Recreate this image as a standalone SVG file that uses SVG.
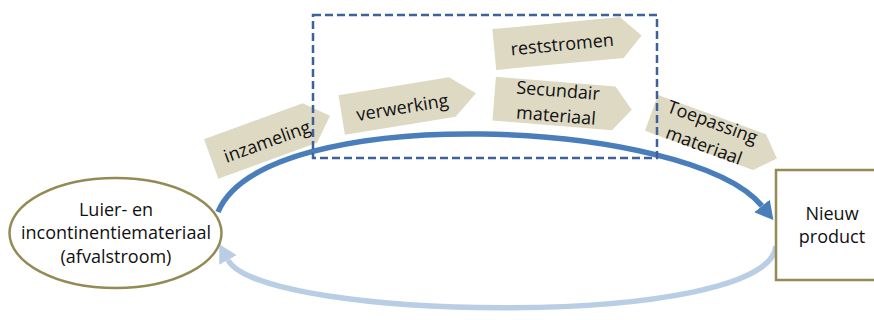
<svg xmlns="http://www.w3.org/2000/svg" width="874" height="320" viewBox="0 0 874 320">
<style>
  .lbl { font-family: "Open Sans", "Liberation Sans", sans-serif; font-size: 18px; fill: #111111; text-anchor: middle; }
  .tag { fill: #ddd9c3; stroke: none; }
  .node { fill: #ffffff; stroke: #948a54; stroke-width: 2.5; }
  .flow { fill: none; stroke: #4a7ebb; stroke-width: 5.5; }
  .back { fill: none; stroke: #b9cde5; stroke-width: 5.5; }
  .scope { fill: none; stroke: #3d6299; stroke-width: 2.5; stroke-dasharray: 8 4; }
</style>
<defs>
  <marker id="arrDark" markerUnits="userSpaceOnUse" viewBox="0 -10 18 20" markerWidth="18" markerHeight="20" refX="0" refY="0" orient="auto">
    <path d="M0,-10 L18,0 L0,10 Z" fill="#4a7ebb"/>
  </marker>
  <marker id="arrLight" markerUnits="userSpaceOnUse" viewBox="0 -10 18 20" markerWidth="18" markerHeight="20" refX="0" refY="0" orient="auto">
    <path d="M0,-10 L18,0 L0,10 Z" fill="#b9cde5"/>
  </marker>
</defs>

<g id="connectors">
  <path class="flow" d="M 218,212 C 265,100 690,118 762,206" marker-end="url(#arrDark)"/>
  <path class="back" d="M 776,246 C 768,330 262,322 228,260" marker-end="url(#arrLight)"/>
</g>

<g id="node-afval">
  <ellipse class="node" cx="115.5" cy="233" rx="106" ry="55"/>
  <text class="lbl" x="116" y="215.5">Luier- en</text>
  <text class="lbl" x="116" y="239">incontinentiemateriaal</text>
  <text class="lbl" x="116" y="262.5">(afvalstroom)</text>
</g>

<g id="node-product">
  <rect class="node" x="776" y="170" width="102" height="110"/>
  <text class="lbl" x="832" y="220">Nieuw</text>
  <text class="lbl" x="832" y="243">product</text>
</g>

<g id="tag-inzameling" transform="translate(260.5,141) rotate(-20)">
  <polygon class="tag" points="-52.5,-21 52.5,-21 74,0 52.5,21 -52.5,21"/>
  <text class="lbl" x="6" y="9">inzameling</text>
</g>

<g id="tag-verwerking" transform="translate(397,106) rotate(-9.2)">
  <polygon class="tag" points="-56,-20 56,-20 80,0 56,20 -56,20"/>
  <text class="lbl" x="5" y="8.5">verwerking</text>
</g>

<g id="tag-reststromen" transform="translate(558,43.5) rotate(-5.4)">
  <polygon class="tag" points="-64,-20.5 64,-20.5 84,0 64,20.5 -64,20.5"/>
  <text class="lbl" x="4" y="7.5">reststromen</text>
</g>

<g id="tag-secundair" transform="translate(554,103.5) rotate(4.6)">
  <polygon class="tag" points="-60,-22 60,-22 78,0 60,22 -60,22"/>
  <text class="lbl" x="3" y="-7">Secundair</text>
  <text class="lbl" x="3" y="18">materiaal</text>
</g>

<g id="tag-toepassing" transform="translate(705.5,132.5) rotate(20)">
  <polygon class="tag" points="-57.5,-19 57.5,-19 76,0 57.5,19 -57.5,19"/>
  <text class="lbl" x="3" y="-6">Toepassing</text>
  <text class="lbl" x="3" y="19">materiaal</text>
</g>

<g id="scope">
  <rect class="scope" x="313" y="15" width="344" height="143"/>
</g>
</svg>
